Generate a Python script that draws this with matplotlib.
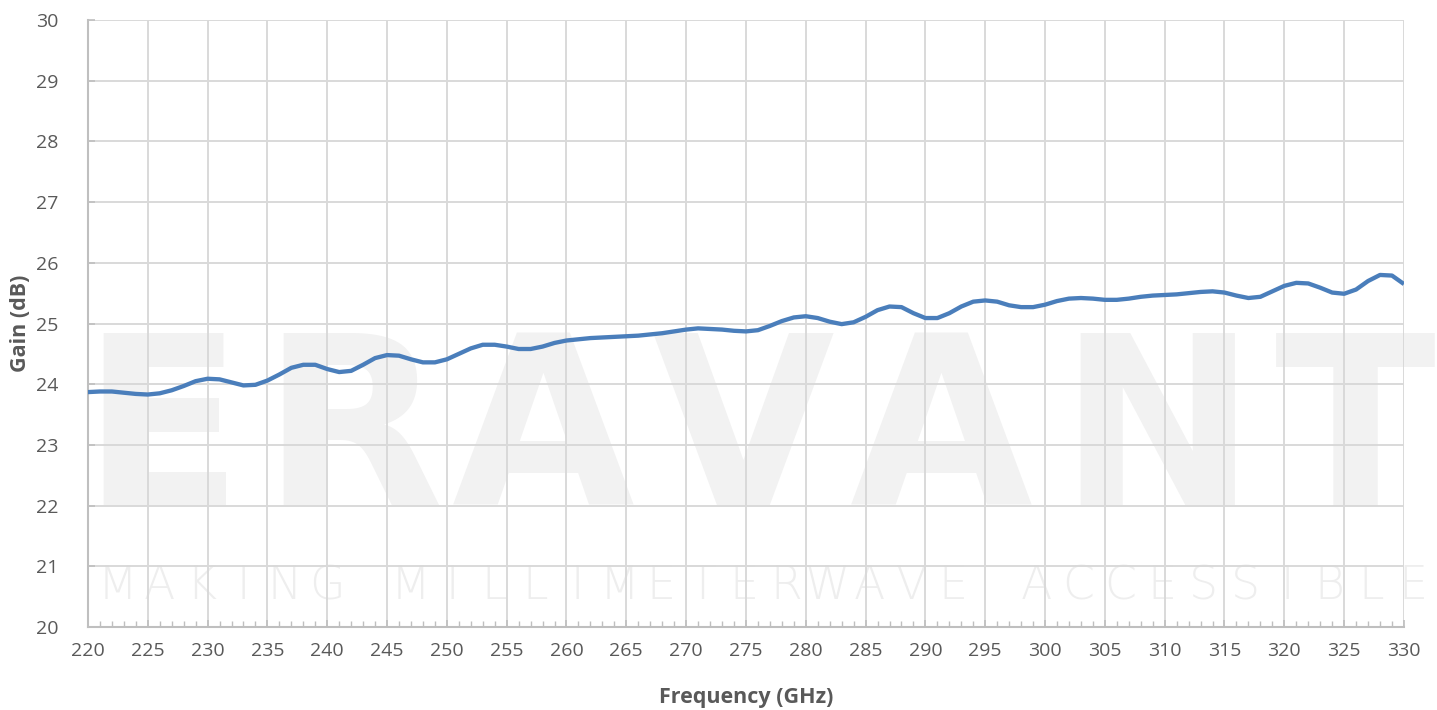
import numpy as np
import matplotlib
matplotlib.use("Agg")
import matplotlib.pyplot as plt
from matplotlib.ticker import MultipleLocator

# frequency (GHz) and gain (dB) at 1 GHz steps
freq_ghz = list(range(220, 331))
gain_db = [
    23.87, 23.88, 23.88, 23.86, 23.84, 23.83, 23.85, 23.90, 23.97, 24.05,
    24.09, 24.08, 24.03, 23.98, 23.99, 24.06, 24.16, 24.27, 24.32, 24.32,
    24.25, 24.20, 24.22, 24.32, 24.43, 24.48, 24.47, 24.41, 24.36, 24.36,
    24.41, 24.50, 24.59, 24.65, 24.65, 24.62, 24.58, 24.58, 24.62, 24.68,
    24.72, 24.74, 24.76, 24.77, 24.78, 24.79, 24.80, 24.82, 24.84, 24.87,
    24.90, 24.92, 24.91, 24.90, 24.88, 24.87, 24.89, 24.96, 25.04, 25.10,
    25.12, 25.09, 25.03, 24.99, 25.02, 25.11, 25.22, 25.28, 25.27, 25.17,
    25.09, 25.09, 25.17, 25.28, 25.36, 25.38, 25.36, 25.30, 25.27, 25.27,
    25.31, 25.37, 25.41, 25.42, 25.41, 25.39, 25.39, 25.41, 25.44, 25.46,
    25.47, 25.48, 25.50, 25.52, 25.53, 25.51, 25.46, 25.42, 25.44, 25.53,
    25.62, 25.67, 25.66, 25.59, 25.51, 25.49, 25.56, 25.70, 25.80, 25.79,
    25.65,
]

brand = "ERAVANT"
slogan = "MAKING MILLIMETERWAVE ACCESSIBLE"

TEXT = "#595959"
GRID = "#d9d9d9"
AXIS = "#bfbfbf"
LINE = "#4a7ebb"

plt.rcParams["font.family"] = ["Open Sans", "DejaVu Sans"]

fig = plt.figure(figsize=(14.37, 7.10), dpi=100)
ax = fig.add_axes([0.0612, 0.1169, 0.9158, 0.8549])
ax.patch.set_alpha(0)

# watermark, drawn under the axes so grid and curve sit on top
wm = "#f2f2f2"
brand_x = [0.113, 0.245, 0.378, 0.517, 0.655, 0.805, 0.943]
for ch, bx in zip(brand, brand_x):
    fig.text(bx, 0.289, ch, ha="center", va="baseline", fontsize=170,
             color=wm, family="DejaVu Sans", fontweight="bold", zorder=-1)
slogan_x = np.linspace(0.082, 0.983, len(slogan))
for ch, sx in zip(slogan, slogan_x):
    fig.text(sx, 0.156, ch, ha="center", va="baseline", fontsize=33,
             color="#eeeeee", family="DejaVu Sans", fontweight="light",
             zorder=-1)

ax.plot(freq_ghz, gain_db, color=LINE, lw=3.1, solid_capstyle="butt",
        solid_joinstyle="round", zorder=3)

ax.set_xlim(220, 330)
ax.set_ylim(20, 30)
ax.xaxis.set_major_locator(MultipleLocator(5))
ax.xaxis.set_minor_locator(MultipleLocator(1))
ax.yaxis.set_major_locator(MultipleLocator(1))

ax.grid(True, which="major", color=GRID, lw=1.4)
ax.set_axisbelow(True)

for side in ("top", "right"):
    ax.spines[side].set_visible(False)
for side in ("left", "bottom"):
    ax.spines[side].set_color(AXIS)
    ax.spines[side].set_linewidth(1.5)

ax.tick_params(axis="x", which="major", direction="in", length=5, width=1.2,
               color=AXIS, labelsize=14, labelcolor=TEXT, pad=11)
ax.tick_params(axis="x", which="minor", direction="in", length=4, width=1.0,
               color=AXIS)
ax.tick_params(axis="y", which="major", direction="in", length=5, width=1.2,
               color=AXIS, labelsize=14, labelcolor=TEXT, pad=21)

ax.set_xlabel("Frequency (GHz)", fontsize=15.5, fontweight="bold", color=TEXT,
              labelpad=19)
ax.set_ylabel("Gain (dB)", fontsize=15.5, fontweight="bold", color=TEXT,
              labelpad=4)

fig.savefig("out.png", dpi=100)
